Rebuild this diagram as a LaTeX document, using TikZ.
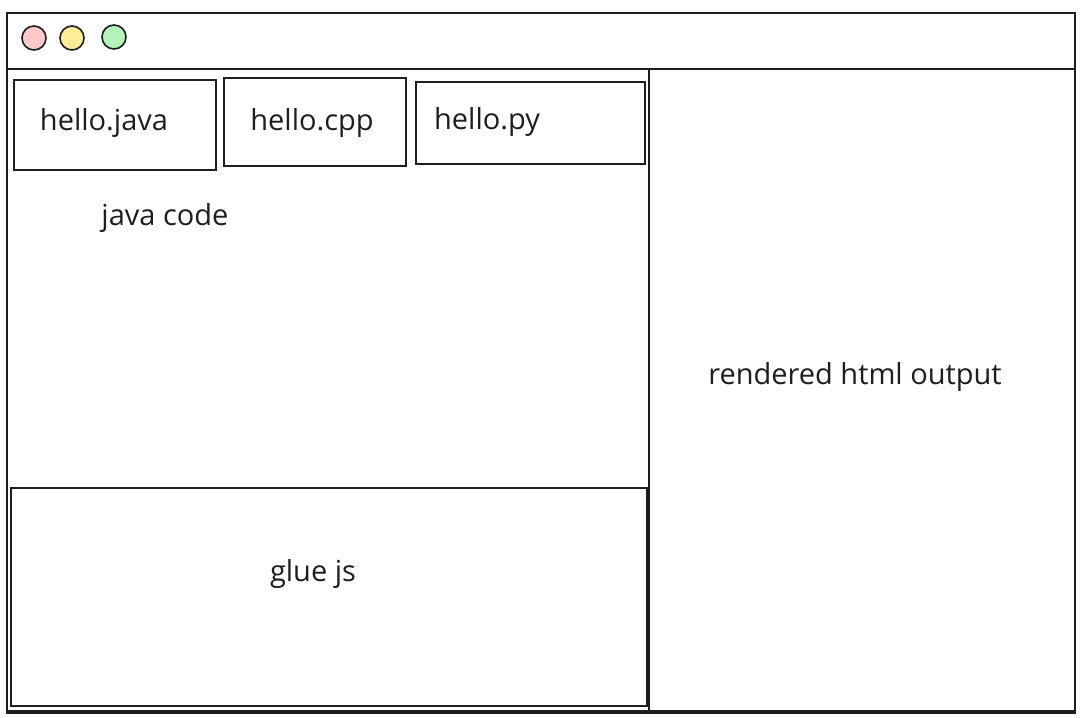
\documentclass[tikz,border=0pt]{standalone}
\usepackage{fontspec}
\setmainfont{Open Sans}
\definecolor{dotred}{HTML}{FFC9C9}
\definecolor{dotyellow}{HTML}{FFEC99}
\definecolor{dotgreen}{HTML}{B2F2BB}
\definecolor{ink}{HTML}{1E1E1E}
\begin{document}
\begin{tikzpicture}[x=1pt,y=-1pt,line width=1.6pt]
	\useasboundingbox (0,0) rectangle (1080,718);
	\begin{scope}[every node/.style={rectangle,draw=ink,inner sep=0pt,anchor=north west}]
		\node (win) [minimum width=1068pt,minimum height=700pt] at (6,12) {};
		\node (bar) [minimum width=1068pt,minimum height=56pt] at (6,12) {};
		\node (editor) [minimum width=642pt,minimum height=642pt] at (6,68) {};
		\node (render) [minimum width=426pt,minimum height=642pt] at (648,68) {};
		\node (glue) [minimum width=636pt,minimum height=218pt] at (10,487) {};
		\node (java) [minimum width=202pt,minimum height=90pt] at (13,79) {};
		\node (cpp) [minimum width=182pt,minimum height=88pt] at (223,77) {};
		\node (py) [minimum width=229pt,minimum height=82pt] at (415,81) {};
	\end{scope}
	
	\begin{scope}[every node/.style={circle,draw=ink,minimum size=24pt,inner sep=0pt}]
		\node (red) [fill=dotred] at (34,38) {};
		\node (yellow) [fill=dotyellow] at (72,38) {};
		\node (green) [fill=dotgreen] at (114,37) {};
	\end{scope}
	
	\begin{scope}[every node/.style={text=ink,font=\fontsize{29}{34}\selectfont}]
		\node at (104,123) {hello.java};
		\node at (312,123) {hello.cpp};
		\node at (487,122) {hello.py};
		\node (jcode) at (165,218) {java code};
		\node at (313,574) {glue js};
		\node at (855,377) {rendered html output};
	\end{scope}
\end{tikzpicture}
\end{document}
